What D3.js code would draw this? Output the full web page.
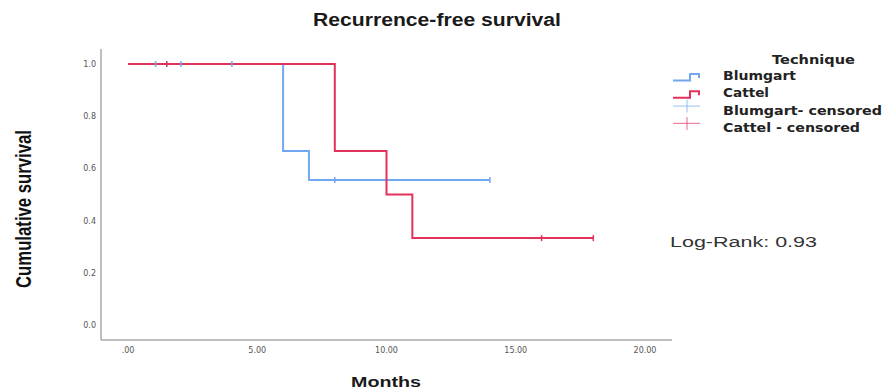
<!DOCTYPE html>
<html>
<head>
<meta charset="utf-8">
<script src="https://cdn.jsdelivr.net/npm/d3@7"></script>
<style>
  body { margin: 0; background: #fff; }
  svg { display: block; }
</style>
</head>
<body>
<div id="chart"></div>
<script>
// step points [time, survival] for each group
var blumgartSteps = [[0, 1.0], [6, 1.0], [6, 0.667], [7, 0.667], [7, 0.556], [14, 0.556]];
var cattelSteps = [[0, 1.0], [8, 1.0], [8, 0.667], [10, 0.667], [10, 0.5], [11, 0.5], [11, 0.333], [18, 0.333]];
// censored points
var blumgartCensored = [[1.07, 1.0], [2.05, 1.0], [4.02, 1.0], [8.0, 0.556], [14.0, 0.556]];
var cattelCensored = [[1.5, 1.0], [16.0, 0.333], [18.0, 0.333]];

var xTicks = [0, 5, 10, 15, 20];
var yTicks = [0, 0.2, 0.4, 0.6, 0.8, 1.0];
var legendLabels = ['Blumgart', 'Cattel', 'Blumgart- censored', 'Cattel - censored'];

var blue = '#72a8f0', red = '#e2315b';

var width = 883, height = 390;
var svg = d3.select('#chart').append('svg')
  .attr('width', width)
  .attr('height', height)
  .style('font-family', 'Liberation Sans, Arial, sans-serif');

var x = d3.scaleLinear().domain([0, 20]).range([128, 645]);
var y = d3.scaleLinear().domain([0, 1]).range([325, 64]);

// axis frame lines
svg.append('line').attr('x1', 101).attr('x2', 101).attr('y1', 49).attr('y2', 340)
  .attr('stroke', '#aaa').attr('stroke-width', 1.5);
svg.append('line').attr('x1', 101).attr('x2', 672).attr('y1', 340).attr('y2', 340)
  .attr('stroke', '#aaa').attr('stroke-width', 1.5);

// tick labels
svg.selectAll('.ytick').data(yTicks).enter().append('text')
  .attr('class', 'ytick')
  .attr('x', 96)
  .attr('y', function (d) { return y(d) + 3; })
  .attr('text-anchor', 'end')
  .attr('font-family', 'DejaVu Sans, sans-serif')
  .attr('font-size', 8)
  .attr('fill', '#555')
  .text(function (d) { return d3.format('.1f')(d); });

svg.selectAll('.xtick').data(xTicks).enter().append('text')
  .attr('class', 'xtick')
  .attr('x', function (d) { return x(d); })
  .attr('y', 353)
  .attr('text-anchor', 'middle')
  .attr('font-family', 'DejaVu Sans, sans-serif')
  .attr('font-size', 8)
  .attr('fill', '#555')
  .text(function (d) { return d === 0 ? '.00' : d3.format('.2f')(d); });

var line = d3.line()
  .x(function (d) { return x(d[0]); })
  .y(function (d) { return y(d[1]); });

svg.append('path').datum(blumgartSteps)
  .attr('d', line).attr('fill', 'none').attr('stroke', blue).attr('stroke-width', 2);
svg.append('path').datum(cattelSteps)
  .attr('d', line).attr('fill', 'none').attr('stroke', red).attr('stroke-width', 2);

function censorMarks(data, color) {
  svg.selectAll(null).data(data).enter().append('line')
    .attr('x1', function (d) { return x(d[0]); })
    .attr('x2', function (d) { return x(d[0]); })
    .attr('y1', function (d) { return y(d[1]) - 3; })
    .attr('y2', function (d) { return y(d[1]) + 3; })
    .attr('stroke', color).attr('stroke-width', 1.5);
}
censorMarks(blumgartCensored, blue);
censorMarks(cattelCensored, red);

// title and axis labels
svg.append('text').attr('x', 437).attr('y', 26).attr('text-anchor', 'middle')
  .attr('font-size', 18).attr('font-weight', 'bold').attr('fill', '#1a1a1a')
  .attr('textLength', 248).attr('lengthAdjust', 'spacingAndGlyphs')
  .text('Recurrence-free survival');

svg.append('text').attr('x', 386).attr('y', 387).attr('text-anchor', 'middle')
  .attr('font-size', 15).attr('font-weight', 'bold').attr('fill', '#1a1a1a')
  .attr('textLength', 70).attr('lengthAdjust', 'spacingAndGlyphs')
  .text('Months');

svg.append('text')
  .attr('transform', 'translate(31,209) rotate(-90)')
  .attr('text-anchor', 'middle')
  .attr('font-size', 22)
  .attr('font-weight', 'bold')
  .attr('textLength', 158).attr('lengthAdjust', 'spacingAndGlyphs')
  .attr('fill', '#111')
  .text('Cumulative survival');

svg.append('text').attr('x', 670).attr('y', 247)
  .attr('font-size', 15.5).attr('fill', '#333')
  .attr('textLength', 147).attr('lengthAdjust', 'spacingAndGlyphs')
  .text('Log-Rank: 0.93');

// legend
svg.append('text').attr('x', 772).attr('y', 64)
  .attr('font-family', 'DejaVu Sans, sans-serif')
  .attr('font-size', 13).attr('font-weight', 'bold').attr('fill', '#222')
  .attr('textLength', 83).attr('lengthAdjust', 'spacingAndGlyphs')
  .text('Technique');

var legendWidths = [73, 46, 159, 137];
var legendColors = [blue, red, blue, red];
var legend = svg.selectAll('.leg').data(legendLabels).enter().append('g')
  .attr('class', 'leg')
  .attr('transform', function (d, i) { return 'translate(673,' + (80 + i * 17.3) + ')'; });

legend.append('text').attr('x', 50).attr('y', 0)
  .attr('font-family', 'DejaVu Sans, sans-serif')
  .attr('font-size', 13).attr('font-weight', 'bold').attr('fill', '#222')
  .attr('textLength', function (d, i) { return legendWidths[i]; })
  .attr('lengthAdjust', 'spacingAndGlyphs')
  .text(function (d) { return d; });

legend.filter(function (d, i) { return i < 2; }).append('path')
  .attr('d', 'M0,0.5 H17 V-6 H26 V-2')
  .attr('fill', 'none')
  .attr('stroke', function (d, i) { return legendColors[i]; })
  .attr('stroke-width', 2);

legend.filter(function (d, i) { return i >= 2; }).each(function (d, i) {
  var g = d3.select(this), c = legendColors[i + 2];
  g.append('line').attr('x1', 0).attr('x2', 27).attr('y1', -8.5).attr('y2', -8.5)
    .attr('stroke', c).attr('stroke-width', 1.2).attr('opacity', 0.6);
  g.append('line').attr('x1', 14).attr('x2', 14).attr('y1', -15).attr('y2', -2)
    .attr('stroke', c).attr('stroke-width', 1.2).attr('opacity', 0.6);
});
</script>
</body>
</html>
